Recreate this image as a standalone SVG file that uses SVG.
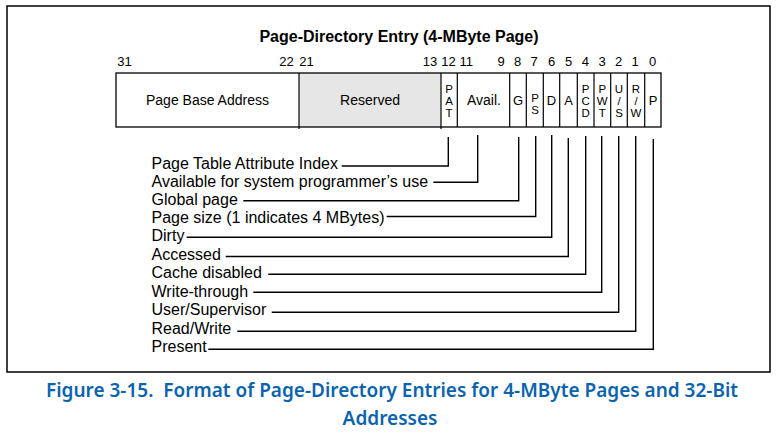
<svg xmlns="http://www.w3.org/2000/svg" width="777" height="437" viewBox="0 0 777 437">
<style>
text{font-family:"Liberation Sans",Arial,sans-serif;fill:#000}
.title{font-size:16px;font-weight:bold;text-anchor:middle}
.bit{font-size:13px;text-anchor:middle}
.cell{font-size:14px;text-anchor:middle}
.ltr{font-size:13px;text-anchor:middle}
.stk{font-size:11.5px;text-anchor:middle}
.lbl{font-size:16px}
.box{fill:none;stroke:#000;stroke-width:1.3}
.div{stroke:#000;stroke-width:1.2}
.conn path{fill:none;stroke:#000;stroke-width:1.4}
.cap{font-family:"Noto Sans","Open Sans",sans-serif;font-size:19px;font-weight:600;fill:#0b63ad;text-anchor:middle}
</style>
<rect x="0" y="0" width="777" height="437" fill="#fff"/>
<rect id="frame" x="7" y="6" width="763" height="366" fill="none" stroke="#000" stroke-width="1.5"/>
<text class="title" x="399" y="42">Page-Directory Entry (4-MByte Page)</text>
<g id="bits">
<text class="bit" x="124.5" y="65.5">31</text>
<text class="bit" x="286.5" y="65.5">22</text>
<text class="bit" x="306.5" y="65.5">21</text>
<text class="bit" x="430" y="65.5">13</text>
<text class="bit" x="448.5" y="65.5">12</text>
<text class="bit" x="466.3" y="65.5">11</text>
<text class="bit" x="501" y="65.5">9</text>
<text class="bit" x="517.5" y="65.5">8</text>
<text class="bit" x="534" y="65.5">7</text>
<text class="bit" x="551.5" y="65.5">6</text>
<text class="bit" x="568.7" y="65.5">5</text>
<text class="bit" x="585.3" y="65.5">4</text>
<text class="bit" x="602" y="65.5">3</text>
<text class="bit" x="618.5" y="65.5">2</text>
<text class="bit" x="635" y="65.5">1</text>
<text class="bit" x="652.5" y="65.5">0</text>
</g>
<g id="entry">
<rect x="299" y="73" width="142" height="54" fill="#e6e6e6"/>
<rect class="box" x="116" y="73" width="545" height="54"/>
<line class="div" x1="299" y1="73" x2="299" y2="129"/>
<line class="div" x1="441" y1="73" x2="441" y2="129"/>
<line class="div" x1="457.3" y1="73" x2="457.3" y2="127"/>
<line class="div" x1="509.7" y1="73" x2="509.7" y2="127"/>
<line class="div" x1="526.3" y1="73" x2="526.3" y2="127"/>
<line class="div" x1="543.3" y1="73" x2="543.3" y2="127"/>
<line class="div" x1="559.7" y1="73" x2="559.7" y2="127"/>
<line class="div" x1="577.3" y1="73" x2="577.3" y2="127"/>
<line class="div" x1="594" y1="73" x2="594" y2="127"/>
<line class="div" x1="610.7" y1="73" x2="610.7" y2="127"/>
<line class="div" x1="627.3" y1="73" x2="627.3" y2="127"/>
<line class="div" x1="644.7" y1="73" x2="644.7" y2="127"/>
</g>
<g id="f-base"><text class="cell" x="207.5" y="105">Page Base Address</text></g>
<g id="f-reserved"><text class="cell" x="370" y="105">Reserved</text></g>
<g id="f-pat"><text class="stk" x="449" y="92.5">P</text><text class="stk" x="449" y="104.5">A</text><text class="stk" x="449" y="116.5">T</text></g>
<g id="f-avail"><text class="cell" x="484" y="105">Avail.</text></g>
<g id="f-g"><text class="ltr" x="518" y="105">G</text></g>
<g id="f-ps"><text class="stk" x="535" y="101.5">P</text><text class="stk" x="535" y="113.5">S</text></g>
<g id="f-d"><text class="ltr" x="551.5" y="105">D</text></g>
<g id="f-a"><text class="ltr" x="568.5" y="105">A</text></g>
<g id="f-pcd"><text class="stk" x="585.7" y="92.5">P</text><text class="stk" x="585.7" y="104.5">C</text><text class="stk" x="585.7" y="116.5">D</text></g>
<g id="f-pwt"><text class="stk" x="602.3" y="92.5">P</text><text class="stk" x="602.3" y="104.5">W</text><text class="stk" x="602.3" y="116.5">T</text></g>
<g id="f-us"><text class="stk" x="619" y="92.5">U</text><text class="stk" x="619" y="104.5">/</text><text class="stk" x="619" y="116.5">S</text></g>
<g id="f-rw"><text class="stk" x="636" y="92.5">R</text><text class="stk" x="636" y="104.5">/</text><text class="stk" x="636" y="116.5">W</text></g>
<g id="f-p"><text class="ltr" x="653" y="105">P</text></g>
<g id="labels">
<text class="lbl" x="151.5" y="169.3">Page Table Attribute Index</text>
<text class="lbl" x="151.5" y="187">Available for system programmer’s use</text>
<text class="lbl" x="151.5" y="204.5">Global page</text>
<text class="lbl" x="151.5" y="222.7">Page size (1 indicates 4 MBytes)</text>
<text class="lbl" x="151.5" y="241">Dirty</text>
<text class="lbl" x="151.5" y="259.5">Accessed</text>
<text class="lbl" x="151.5" y="278">Cache disabled</text>
<text class="lbl" x="151.5" y="296.7">Write-through</text>
<text class="lbl" x="151.5" y="315.3">User/Supervisor</text>
<text class="lbl" x="151.5" y="333.8">Read/Write</text>
<text class="lbl" x="151.5" y="352.2">Present</text>
</g>
<g id="connectors" class="conn">
<path d="M341.7,166 H448.3 V137"/>
<path d="M433.3,182.3 H477.7 V135"/>
<path d="M243.3,200.7 H518.7 V137"/>
<path d="M386.7,216.5 H535.7 V136"/>
<path d="M186.7,237.3 H551.7 V135"/>
<path d="M225.7,256.5 H568.3 V138"/>
<path d="M268.3,274.3 H585.7 V136"/>
<path d="M253.3,292.3 H601.7 V136"/>
<path d="M271.7,312.3 H618.7 V136"/>
<path d="M237.3,331.2 H635.7 V136"/>
<path d="M208.3,349.2 H653.3 V139"/>
</g>
<g id="caption">
<text class="cap" x="392" y="397" textLength="692" lengthAdjust="spacingAndGlyphs">Figure 3-15.&#160; Format of Page-Directory Entries for 4-MByte Pages and 32-Bit</text>
<text class="cap" x="390" y="425">Addresses</text>
</g>
</svg>
